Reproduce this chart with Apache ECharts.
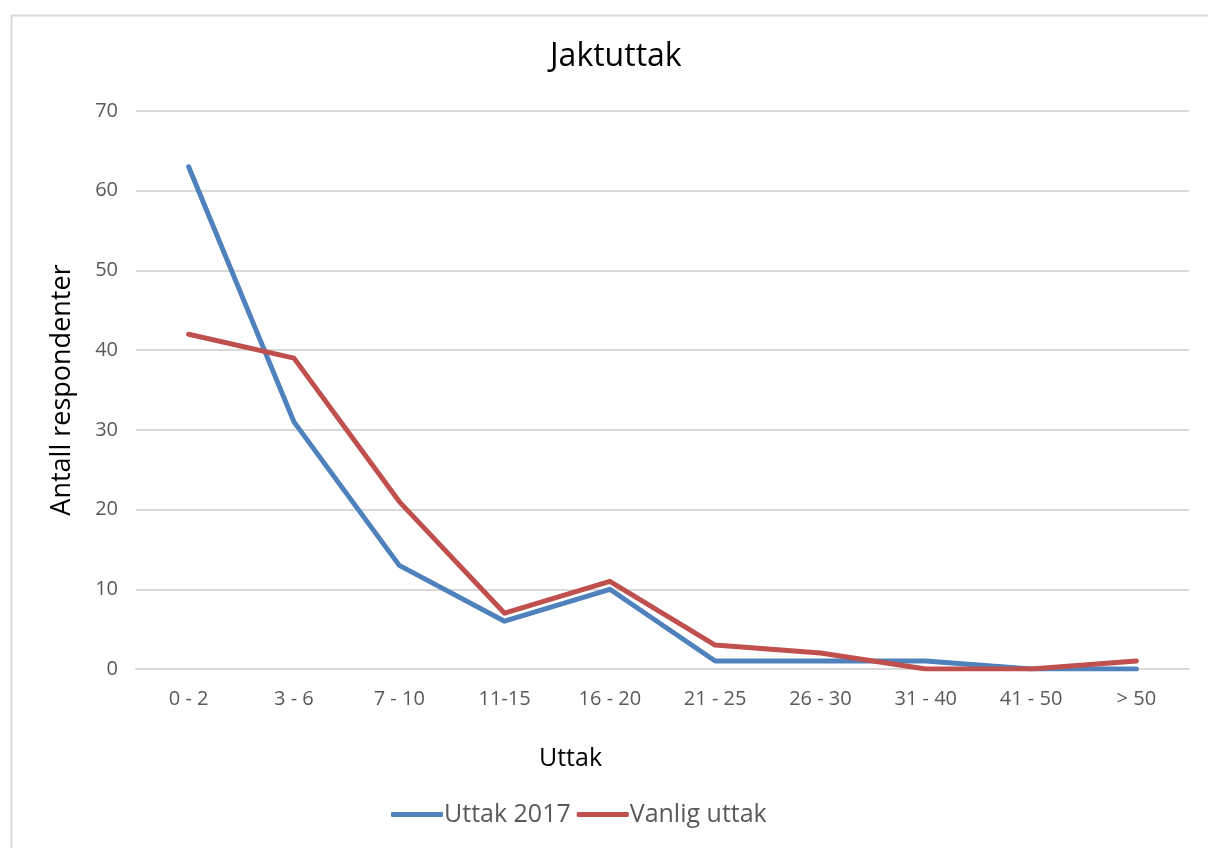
<!DOCTYPE html>
<html>
<head>
<meta charset="utf-8">
<script src="https://cdn.jsdelivr.net/npm/echarts@6/dist/echarts.min.js"></script>
<style>
  html, body { margin: 0; padding: 0; background: #fff; }
  #chart { width: 1208px; height: 848px; }
</style>
</head>
<body>
<div id="chart"></div>
<script>
  // kategorier og verdier lest av figuren
  const categories = ['0 - 2', '3 - 6', '7 - 10', '11-15', '16 - 20', '21 - 25', '26 - 30', '31 - 40', '41 - 50', '> 50'];
  const uttak2017 = [63, 31, 13, 6, 10, 1, 1, 1, 0, 0];
  const vanligUttak = [42, 39, 21, 7, 11, 3, 2, 0, 0, 1];
  const yTicks = [0, 10, 20, 30, 40, 50, 60, 70];

  const fontFamily = '"Open Sans", "Noto Sans", sans-serif';

  const chart = echarts.init(document.getElementById('chart'));

  const option = {
    animation: false,
    backgroundColor: '#fff',
    textStyle: { fontFamily: fontFamily },
    graphic: [{
      type: 'rect',
      left: 9,
      top: 13,
      shape: { width: 1220, height: 860 },
      style: { fill: 'none', stroke: '#d9d9d9', lineWidth: 2 },
      silent: true
    }],
    title: {
      text: 'Jaktuttak',
      left: 545,
      top: 36,
      textStyle: { fontSize: 32, fontWeight: 'normal', color: '#000', fontFamily: fontFamily }
    },
    legend: {
      bottom: 16,
      left: 386,
      itemWidth: 52,
      itemHeight: 5,
      itemGap: 6,
      icon: 'roundRect',
      textStyle: { fontSize: 25, color: '#595959', padding: [0, 0, 0, -4] },
      data: ['Uttak 2017', 'Vanlig uttak']
    },
    grid: {
      left: 136,
      right: 19,
      top: 111,
      bottom: 179
    },
    xAxis: {
      type: 'category',
      data: categories,
      boundaryGap: true,
      name: 'Uttak',
      nameLocation: 'middle',
      nameGap: 77,
      nameTextStyle: { fontSize: 25, color: '#000', padding: [0, 184, 0, 0] },
      axisLine: { lineStyle: { color: '#d9d9d9', width: 2 } },
      axisTick: { show: false },
      axisLabel: { fontSize: 20, color: '#595959', margin: 20 }
    },
    yAxis: {
      type: 'value',
      min: yTicks[0],
      max: yTicks[yTicks.length - 1],
      interval: 10,
      name: 'Antall respondenter',
      nameLocation: 'middle',
      nameGap: 60,
      nameTextStyle: { fontSize: 27, color: '#000' },
      axisLine: { show: false },
      axisTick: { show: false },
      axisLabel: { fontSize: 20, color: '#595959', margin: 18 },
      splitLine: { lineStyle: { color: '#d9d9d9', width: 2 } }
    },
    series: [
      {
        name: 'Uttak 2017',
        type: 'line',
        data: uttak2017,
        symbol: 'none',
        lineStyle: { color: '#4f81bd', width: 5, cap: 'round', join: 'round' },
        itemStyle: { color: '#4f81bd' }
      },
      {
        name: 'Vanlig uttak',
        type: 'line',
        data: vanligUttak,
        symbol: 'none',
        lineStyle: { color: '#c0504d', width: 5, cap: 'round', join: 'round' },
        itemStyle: { color: '#c0504d' }
      }
    ]
  };

  chart.setOption(option);
</script>
</body>
</html>
